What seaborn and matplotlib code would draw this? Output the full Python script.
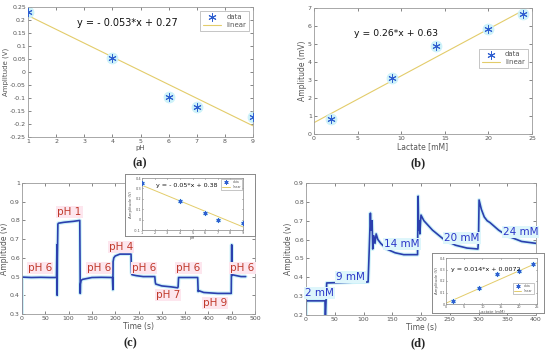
import numpy as np
import matplotlib
matplotlib.use("Agg")
import matplotlib.pyplot as plt
import seaborn as sns

# (a) pH calibration
ph_x = [1, 4, 6, 7, 9]
ph_y = [0.23, 0.055, -0.095, -0.135, -0.175]
ph_fit = (-0.053, 0.27)

# (b) lactate calibration
lac_x = [2, 9, 14, 20, 24]
lac_y = [0.85, 3.1, 4.9, 5.85, 6.65]
lac_fit = (0.26, 0.63)

# (c) pH time trace
c_t = [0, 0, 2, 20, 40, 60, 74, 75, 75.5, 76, 77, 78, 90, 110, 124, 125, 125.5, 127, 130,
       140, 150, 170, 194, 195, 195.5, 197, 200, 210, 234, 235, 236, 245, 260, 285, 286,
       287, 300, 320, 334, 335, 336, 350, 377, 378, 379, 390, 420, 449, 450, 450.5, 451,
       460, 470, 480]
c_amp = [0.3, 0.495, 0.497, 0.495, 0.496, 0.495, 0.495, 0.67, 0.40, 0.60, 0.78, 0.785, 0.79,
         0.795, 0.80, 0.41, 0.46, 0.48, 0.485, 0.49, 0.495, 0.496, 0.495, 0.43, 0.58, 0.60,
         0.61, 0.62, 0.62, 0.52, 0.51, 0.505, 0.50, 0.50, 0.47, 0.46, 0.45, 0.445, 0.44,
         0.445, 0.495, 0.495, 0.495, 0.42, 0.425, 0.415, 0.41, 0.41, 0.67, 0.505, 0.51,
         0.505, 0.50, 0.50]
c_labels = ["pH 6", "pH 1", "pH 6", "pH 4", "pH 6", "pH 7", "pH 6", "pH 9", "pH 6"]
c_label_t = [38, 102, 165, 213, 262, 314, 357, 414, 473]
c_label_y = [0.545, 0.845, 0.545, 0.658, 0.545, 0.40, 0.545, 0.358, 0.545]

# (c) inset
ci_x = [1, 4, 6, 7, 9]
ci_y = [0.35, 0.175, 0.065, 0.0, -0.03]
ci_fit = (-0.05, 0.38)

# (d) lactate time trace
d_t = [0, 0.5, 1, 20, 33, 33.5, 34, 36, 60, 90, 108, 110, 112, 113, 115, 116, 118, 120, 122,
       125, 130, 140, 155, 170, 194, 195, 196, 197, 198, 200, 205, 220, 240, 260, 280, 299,
       300, 301, 305, 310, 315, 320, 335, 350, 375, 400]
d_amp = [0.2, 0.28, 0.275, 0.275, 0.275, 0.2, 0.2, 0.37, 0.372, 0.375, 0.375, 0.55, 0.74,
         0.65, 0.70, 0.55, 0.62, 0.58, 0.63, 0.60, 0.58, 0.55, 0.53, 0.52, 0.52, 0.83, 0.65,
         0.70, 0.63, 0.73, 0.70, 0.65, 0.60, 0.57, 0.555, 0.55, 0.60, 0.81, 0.76, 0.72, 0.70,
         0.69, 0.65, 0.62, 0.59, 0.58]
d_labels = ["2 mM", "9 mM", "14 mM", "20 mM", "24 mM"]
d_label_t = [24, 77, 167, 271, 373]
d_label_y = [0.318, 0.403, 0.577, 0.61, 0.638]

# (d) inset
di_x = [2, 9, 14, 20, 24]
di_y = [0.03, 0.135, 0.265, 0.29, 0.345]
di_fit = (0.014, 0.0072)

sns.set_theme(style="ticks")
plt.rcParams["font.family"] = ["DejaVu Sans"]

BLUE = "#2f5fd0"
YELLOW = "#e3cc6a"
TRACE = "#2b3fae"
HALO = "#cdf2f9"
GRAY = "#555555"

W, H = 550, 355


def px_axes(fig, x0, y0, x1, y1, **kw):
    return fig.add_axes([x0 / W, 1 - y1 / H, (x1 - x0) / W, (y1 - y0) / H], **kw)


def style(ax, fs=4.5):
    for s in ax.spines.values():
        s.set_visible(True)
        s.set_color("#9a9a9a")
        s.set_linewidth(0.6)
    ax.tick_params(direction="in", length=2, width=0.5, labelsize=fs, colors=GRAY,
                   pad=1.5, top=True, right=True)
    ax.set_facecolor("white")


def calib(ax, x, y, fit, xs, eq, eqpos, lfs, ms, lw, legloc, anchor=None, eqfs=7,
          legpad=0.3):
    fx = np.array(xs)
    sns.scatterplot(x=x, y=y, ax=ax, marker="o", s=ms * 2.2, color=HALO, edgecolor=None,
                    zorder=2, legend=False)
    sns.lineplot(x=fx, y=fit[0] * fx + fit[1], ax=ax, color=YELLOW, lw=lw, zorder=1)
    sns.scatterplot(x=x, y=y, ax=ax, marker=(6, 2, 0), s=ms, color=BLUE, linewidth=0.7,
                    zorder=3, legend=False)
    h1 = ax.scatter([], [], marker=(6, 2, 0), s=ms, color=BLUE, linewidth=0.7)
    h2, = ax.plot([], [], color=YELLOW, lw=lw)
    leg = ax.legend([h1, h2], ["data", "linear"], loc=legloc, bbox_to_anchor=anchor,
                    fontsize=lfs, frameon=True, fancybox=False, borderpad=0.4,
                    handlelength=2.5, labelspacing=0.3, borderaxespad=legpad)
    leg.get_frame().set_edgecolor("#9a9a9a")
    leg.get_frame().set_linewidth(0.5)
    for t in leg.get_texts():
        t.set_color(GRAY)
    ax.text(eqpos[0], eqpos[1], eq, transform=ax.transAxes, fontsize=eqfs, color="#111111",
            ha="center", va="center")


fig = plt.figure(figsize=(5.5, 3.55), dpi=100)

# ---- (a)
ax = px_axes(fig, 28, 7, 253, 137)
style(ax)
calib(ax, ph_x, ph_y, ph_fit, [1, 9], "y = - 0.053*x + 0.27", (0.44, 0.877), 5, 28, 0.8,
      "upper right", legpad=0.6)
ax.set_xlim(1, 9)
ax.set_ylim(-0.25, 0.25)
ax.set_xticks(range(1, 10))
ax.set_yticks(np.arange(-0.25, 0.26, 0.05))
ax.set_yticklabels(["-0.25", "-0.2", "-0.15", "-0.1", "-0.05", "0", "0.05", "0.1", "0.15",
                    "0.2", "0.25"])
ax.set_xlabel("pH", fontsize=5, color=GRAY, labelpad=1)
ax.set_ylabel("Amplitude (V)", fontsize=5, color=GRAY, labelpad=1)

# ---- (b)
ax = px_axes(fig, 314, 8, 532, 134)
style(ax)
calib(ax, lac_x, lac_y, lac_fit, [0, 24], "y = 0.26*x + 0.63", (0.376, 0.80), 5, 28, 0.8,
      "center right", (0.99, 0.6), eqfs=6.7)
ax.set_xlim(0, 25)
ax.set_ylim(0, 7)
ax.set_xlabel("Lactate [mM]", fontsize=5.5, color=GRAY, labelpad=1)
ax.set_ylabel("Amplitude (mV)", fontsize=5.5, color=GRAY, labelpad=1)

# ---- (c)
ax = px_axes(fig, 22, 183, 255, 314)
style(ax)
sns.lineplot(x=c_t, y=c_amp, ax=ax, sort=False, estimator=None, color=HALO, lw=2.8)
sns.lineplot(x=c_t, y=c_amp, ax=ax, sort=False, estimator=None, color=TRACE, lw=1.2)
for lab, t, y in zip(c_labels, c_label_t, c_label_y):
    ax.text(t, y, lab, fontsize=7.5, color="#c0392b", ha="center", va="center",
            bbox=dict(boxstyle="square,pad=0.1", fc="#fde6ee", ec="none"))
ax.set_xlim(0, 500)
ax.set_ylim(0.3, 1)
ax.set_xticks(range(0, 501, 50))
ax.set_yticks(np.arange(0.3, 1.01, 0.1))
ax.set_yticklabels(["0.3", "0.4", "0.5", "0.6", "0.7", "0.8", "0.9", "1"])
ax.set_xlabel("Time (s)", fontsize=5.5, color=GRAY, labelpad=1)
ax.set_ylabel("Amplitude (v)", fontsize=5.5, color=GRAY, labelpad=1)

# inset (c)
bg = px_axes(fig, 125, 174, 255, 236)
bg.set_xticks([])
bg.set_yticks([])
for s in bg.spines.values():
    s.set_color("#8a8a8a")
    s.set_linewidth(0.7)
ax = px_axes(fig, 142, 178, 243, 230)
style(ax, fs=2.5)
ax.tick_params(length=1, pad=0.8)
calib(ax, ci_x, ci_y, ci_fit, [1, 9], "y = - 0.05*x + 0.38", (0.44, 0.85), 2.2, 6, 0.7,
      "upper right", eqfs=4.6, legpad=0.2)
ax.set_xlim(1, 9)
ax.set_ylim(-0.1, 0.4)
ax.set_xticks(range(1, 10))
ax.set_yticks([-0.1, 0, 0.1, 0.2, 0.3, 0.4])
ax.set_yticklabels(["-0.1", "0", "0.1", "0.2", "0.3", "0.4"])
ax.set_xlabel("pH", fontsize=2.8, color=GRAY, labelpad=0.5)
ax.set_ylabel("Amplitude (V)", fontsize=2.8, color=GRAY, labelpad=0.5)

# ---- (d)
ax = px_axes(fig, 306, 183, 536, 315)
style(ax)
sns.lineplot(x=d_t, y=d_amp, ax=ax, sort=False, estimator=None, color=HALO, lw=2.8)
sns.lineplot(x=d_t, y=d_amp, ax=ax, sort=False, estimator=None, color=TRACE, lw=1.2)
for lab, t, y in zip(d_labels, d_label_t, d_label_y):
    ax.text(t, y, lab, fontsize=7.5, color="#2a35c8", ha="center", va="center",
            bbox=dict(boxstyle="square,pad=0.1", fc="#def6fb", ec="none"))
ax.set_xlim(0, 400)
ax.set_ylim(0.2, 0.9)
ax.set_xticks(range(0, 401, 50))
ax.set_yticks(np.arange(0.2, 0.91, 0.1))
ax.set_yticklabels(["0.2", "0.3", "0.4", "0.5", "0.6", "0.7", "0.8", "0.9"])
ax.set_xlabel("Time (s)", fontsize=5.5, color=GRAY, labelpad=1)
ax.set_ylabel("Amplitude (v)", fontsize=5.5, color=GRAY, labelpad=1)

# inset (d)
bg = px_axes(fig, 432, 253, 544, 313)
bg.set_xticks([])
bg.set_yticks([])
for s in bg.spines.values():
    s.set_color("#8a8a8a")
    s.set_linewidth(0.7)
ax = px_axes(fig, 446, 258, 537, 304)
style(ax, fs=2.5)
ax.tick_params(length=1, pad=0.8)
calib(ax, di_x, di_y, di_fit, [0, 25], "y = 0.014*x + 0.0072", (0.44, 0.74), 2.2, 6, 0.7,
      "lower right", (0.97, 0.2), eqfs=4.6, legpad=0.2)
ax.set_xlim(0, 25)
ax.set_ylim(0, 0.4)
ax.set_xticks(range(0, 26, 5))
ax.set_yticks([0, 0.1, 0.2, 0.3, 0.4])
ax.set_yticklabels(["0", "0.1", "0.2", "0.3", "0.4"])
ax.set_xlabel("Lactate (mM)", fontsize=2.8, color=GRAY, labelpad=0.5)
ax.set_ylabel("Amplitude (V)", fontsize=2.8, color=GRAY, labelpad=0.5)

# panel letters
for lab, x, y in [("(a)", 140, 163), ("(b)", 418, 163), ("(c)", 130, 343), ("(d)", 418, 343)]:
    fig.text(x / W, 1 - y / H, lab, fontsize=9, fontweight="bold", ha="center", va="center",
             family=["Liberation Serif", "DejaVu Serif"])

fig.savefig("out.png", dpi=100)
